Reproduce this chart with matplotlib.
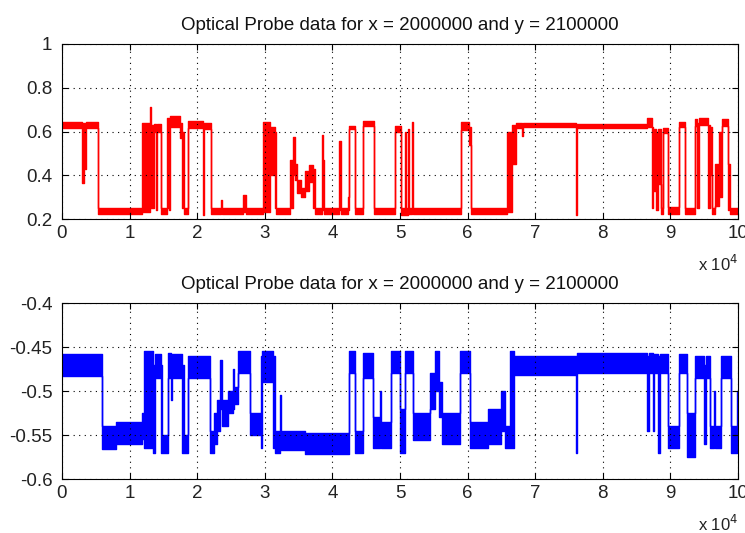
import numpy as np
import matplotlib
matplotlib.use("Agg")
import matplotlib.pyplot as plt
from matplotlib.ticker import FuncFormatter

plt.rcParams['font.family'] = ['Liberation Sans', 'DejaVu Sans']

title_text = "Optical Probe data for x = 2000000 and y = 2100000"
x_scale = 1e4

# Red signal: segments (start, end) in units of 1e4 samples, value band (low, high)
red_start = [0.00, 0.30, 0.32, 0.34, 0.36, 0.54, 1.18, 1.30, 1.32, 1.36, 1.39, 1.40, 1.46, 1.47,
             1.56, 1.58, 1.60, 1.74, 1.77, 1.80, 1.87, 2.08, 2.10, 2.20, 2.35, 2.37, 2.68, 2.72,
             2.98, 3.08, 3.15, 3.17, 3.38, 3.42, 3.44, 3.48, 3.54, 3.60, 3.65, 3.72, 3.74, 3.84,
             3.86, 3.88, 4.10, 4.12, 4.23, 4.25, 4.33, 4.46, 4.61, 4.93, 5.02, 5.08, 5.09, 5.12,
             5.13, 5.18, 5.19, 5.90, 6.02, 6.05, 6.58, 6.66, 6.72, 6.80, 6.82, 7.60, 7.62, 8.66,
             8.73, 8.75, 8.78, 8.82, 8.86, 8.89, 8.97, 9.12, 9.22, 9.36, 9.40, 9.42, 9.56, 9.58,
             9.62, 9.66, 9.72, 9.76, 9.85, 9.88]
red_low = [0.615, 0.365, 0.60, 0.43, 0.615, 0.225, 0.23, 0.25, 0.25, 0.60, 0.24, 0.60, 0.25, 0.225,
           0.25, 0.24, 0.62, 0.57, 0.25, 0.225, 0.615, 0.22, 0.61, 0.225, 0.23, 0.225, 0.23, 0.225,
           0.23, 0.40, 0.25, 0.225, 0.25, 0.40, 0.38, 0.32, 0.30, 0.33, 0.37, 0.25, 0.225, 0.24,
           0.24, 0.225, 0.24, 0.225, 0.24, 0.61, 0.225, 0.625, 0.225, 0.60, 0.22, 0.22, 0.22, 0.24,
           0.225, 0.24, 0.225, 0.605, 0.54, 0.225, 0.23, 0.45, 0.615, 0.58, 0.62, 0.22, 0.615, 0.62,
           0.25, 0.33, 0.24, 0.36, 0.225, 0.595, 0.225, 0.62, 0.225, 0.625, 0.25, 0.63, 0.25, 0.40,
           0.225, 0.26, 0.30, 0.625, 0.24, 0.225]
red_high = [0.645, 0.64, 0.64, 0.62, 0.645, 0.25, 0.64, 0.71, 0.63, 0.635, 0.62, 0.635, 0.63, 0.25,
            0.66, 0.62, 0.67, 0.64, 0.60, 0.25, 0.65, 0.63, 0.64, 0.25, 0.285, 0.25, 0.31, 0.25,
            0.645, 0.62, 0.60, 0.25, 0.47, 0.575, 0.45, 0.38, 0.34, 0.42, 0.445, 0.43, 0.25, 0.585,
            0.47, 0.25, 0.555, 0.25, 0.30, 0.625, 0.25, 0.65, 0.25, 0.625, 0.25, 0.60, 0.25, 0.61,
            0.25, 0.645, 0.25, 0.645, 0.62, 0.25, 0.60, 0.63, 0.64, 0.63, 0.64, 0.63, 0.635, 0.66,
            0.62, 0.61, 0.60, 0.61, 0.25, 0.615, 0.255, 0.645, 0.25, 0.655, 0.64, 0.66, 0.63, 0.62,
            0.25, 0.45, 0.60, 0.655, 0.45, 0.25]

# Blue signal
blue_start = [0.00, 0.59, 0.80, 1.00, 1.18, 1.22, 1.35, 1.37, 1.46, 1.48, 1.57, 1.62, 1.63, 1.77,
              1.80, 1.87, 2.19, 2.25, 2.30, 2.34, 2.36, 2.45, 2.53, 2.55, 2.61, 2.78, 2.94, 2.96,
              3.12, 3.15, 3.22, 3.24, 3.60, 4.24, 4.33, 4.46, 4.60, 4.70, 4.72, 4.87, 5.00, 5.07,
              5.19, 5.44, 5.52, 5.58, 5.62, 5.89, 6.04, 6.30, 6.50, 6.55, 6.63, 6.68, 7.60, 7.62,
              8.66, 8.68, 8.74, 8.76, 8.82, 8.84, 8.97, 9.12, 9.24, 9.36, 9.50, 9.52, 9.58, 9.64,
              9.66, 9.75, 9.90, 9.98]
blue_low = [-0.483, -0.566, -0.56, -0.56, -0.555, -0.565, -0.57, -0.485, -0.57, -0.57, -0.485, -0.51,
            -0.485, -0.57, -0.57, -0.485, -0.57, -0.56, -0.545, -0.52, -0.54, -0.525, -0.52, -0.515,
            -0.48, -0.55, -0.565, -0.49, -0.565, -0.57, -0.56, -0.567, -0.572, -0.48, -0.57, -0.485,
            -0.565, -0.56, -0.565, -0.48, -0.57, -0.48, -0.556, -0.52, -0.50, -0.53, -0.56, -0.48,
            -0.565, -0.56, -0.545, -0.565, -0.565, -0.482, -0.57, -0.48, -0.545, -0.48, -0.545, -0.48,
            -0.57, -0.48, -0.565, -0.48, -0.575, -0.485, -0.56, -0.485, -0.565, -0.56, -0.565, -0.485,
            -0.57, -0.56]
blue_high = [-0.458, -0.54, -0.535, -0.535, -0.525, -0.455, -0.47, -0.458, -0.47, -0.55, -0.457, -0.46,
             -0.458, -0.47, -0.55, -0.46, -0.545, -0.525, -0.51, -0.465, -0.51, -0.50, -0.475, -0.495,
             -0.455, -0.525, -0.46, -0.455, -0.46, -0.545, -0.505, -0.545, -0.548, -0.455, -0.545, -0.457,
             -0.53, -0.50, -0.535, -0.455, -0.52, -0.455, -0.525, -0.48, -0.455, -0.49, -0.525, -0.455,
             -0.535, -0.52, -0.50, -0.54, -0.455, -0.46, -0.46, -0.457, -0.46, -0.457, -0.46, -0.458,
             -0.46, -0.458, -0.54, -0.458, -0.525, -0.46, -0.47, -0.46, -0.54, -0.50, -0.54, -0.46,
             -0.54, -0.50]
x_end = 10.0

red_yticks = [0.2, 0.4, 0.6, 0.8, 1.0]
red_yticklabels = ["0.2", "0.4", "0.6", "0.8", "1"]
blue_yticks = [-0.6, -0.55, -0.5, -0.45, -0.4]
blue_yticklabels = ["-0.6", "-0.55", "-0.5", "-0.45", "-0.4"]
xticks = list(range(0, 11))

fig = plt.figure(figsize=(7.45, 5.33), dpi=100)
ax1 = fig.add_axes([0.0832, 0.589, 0.9074, 0.3285])
ax2 = fig.add_axes([0.0832, 0.1013, 0.9074, 0.330])


def draw(ax, starts, lows, highs, color, yticks, ylabels, ylim):
    xs = np.array(list(starts) + [x_end]) * x_scale
    lo = np.array(list(lows) + [lows[-1]])
    hi = np.array(list(highs) + [highs[-1]])
    ax.fill_between(xs, lo, hi, step='post', facecolor=color, edgecolor=color, linewidth=1.0)
    ax.set_xlim(0, x_end * x_scale)
    ax.set_ylim(*ylim)
    ax.set_xticks([t * x_scale for t in xticks])
    ax.xaxis.set_major_formatter(FuncFormatter(lambda v, p: "%d" % round(v / x_scale)))
    ax.set_yticks(yticks)
    ax.set_yticklabels(ylabels)
    ax.grid(True, color='black', linestyle=(0, (1, 4)), linewidth=0.8)
    ax.tick_params(direction='in', top=True, right=True, length=4, labelsize=13.5,
                   labelcolor='#222222')
    ax.tick_params(axis='y', pad=7)
    ax.tick_params(axis='x', pad=4)
    for s in ax.spines.values():
        s.set_linewidth(0.8)
    ax.set_title(title_text, fontsize=13.5, pad=10, color='#111111')
    ax.text(1.0, -0.2, r"x 10$^{4}$", transform=ax.transAxes, ha='right', va='top',
            fontsize=12, color='#222222')


draw(ax1, red_start, red_low, red_high, '#ff0000', red_yticks, red_yticklabels, (0.2, 1.0))
draw(ax2, blue_start, blue_low, blue_high, '#0000ff', blue_yticks, blue_yticklabels, (-0.6, -0.4))

fig.savefig("out.png", dpi=100, facecolor='white')
